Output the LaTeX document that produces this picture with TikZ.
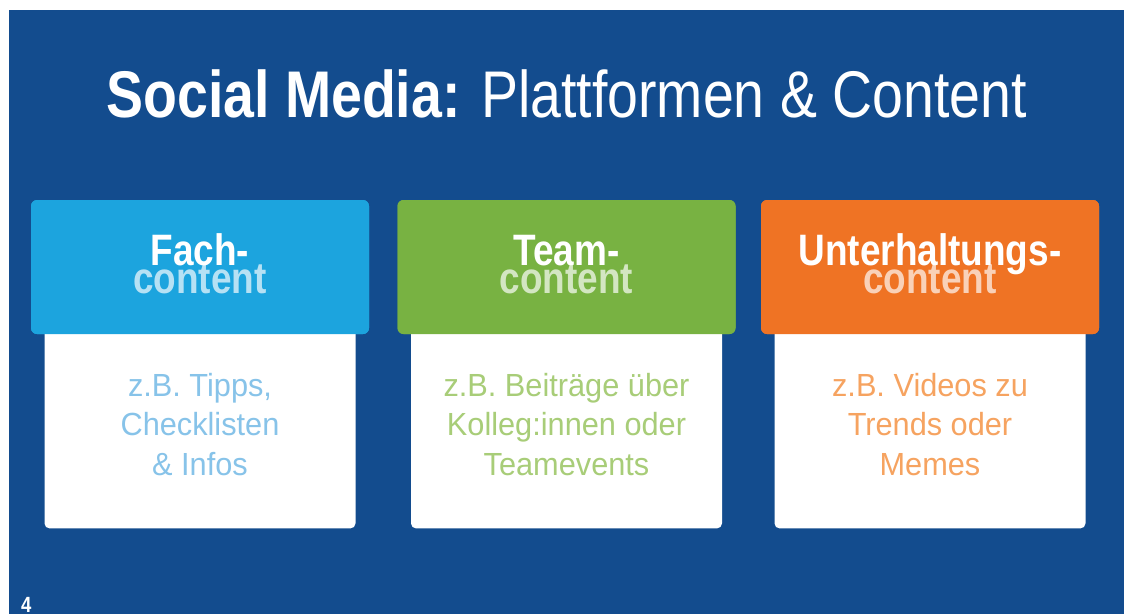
\documentclass[tikz,border=0pt]{standalone}
\usepackage{fontspec}
\usetikzlibrary{positioning}
\newfontfamily\slidehead[FakeStretch=0.84]{Liberation Sans}
\newfontfamily\slidetext[FakeStretch=0.96]{Liberation Sans}
\definecolor{slideblue}{RGB}{19,76,142}
\definecolor{fachblue}{RGB}{28,164,222}
\definecolor{teamgreen}{RGB}{120,178,66}
\definecolor{funorange}{RGB}{239,115,36}
\definecolor{fachlight}{RGB}{135,195,233}
\definecolor{teamlight}{RGB}{168,205,120}
\definecolor{funlight}{RGB}{246,163,96}
\tikzset{
  headbox/.style={rectangle, rounded corners=6pt, minimum width=338pt, minimum height=134pt, inner sep=0pt},
  bodybox/.style={rectangle, fill=white, rounded corners=5pt, minimum width=311pt, minimum height=208pt, inner sep=0pt, align=center, font=\slidetext\fontsize{32}{39.5}\selectfont},
  headword/.style={anchor=base, text=white, inner sep=0pt, font=\slidehead\bfseries\fontsize{44}{44}\selectfont},
  contentword/.style={headword, text opacity=0.68}
}
\begin{document}
\begin{tikzpicture}[x=1pt,y=-1pt]
  \useasboundingbox (0,0) rectangle (1136,614);
  \fill[white] (0,0) rectangle (1136,614); % page
  \fill[slideblue] (9,10) rectangle (1124,614); % slide background

  % title
  \node[anchor=base, text=white, inner sep=0pt, font=\slidehead\fontsize{66}{66}\selectfont] (title) at (566.5,117)
    {{\bfseries Social Media:} Plattformen \& Content};

  % column 1
  \node[headbox, fill=fachblue] (fach) at (200,267) {};
  \node[bodybox, text=fachlight, below=-14pt of fach] (fachtext) {z.B. Tipps,\\Checklisten\\\& Infos};
  \node[headbox, fill=fachblue] at (fach) {}; % header over the white box
  \node[headword] (fachword) at ([yshift=2pt]fach.center) {Fach-};
  \node[contentword] (fachcontent) at ([yshift=-26pt]fach.center) {content};

  % column 2
  \node[headbox, fill=teamgreen] (team) at (566.5,267) {};
  \node[bodybox, text=teamlight, below=-14pt of team] (teamtext) {z.B. Beiträge über\\Kolleg:innen oder\\Teamevents};
  \node[headbox, fill=teamgreen] at (team) {};
  \node[headword] (teamword) at ([yshift=2pt]team.center) {Team-};
  \node[contentword] (teamcontent) at ([yshift=-26pt]team.center) {content};

  % column 3
  \node[headbox, fill=funorange] (fun) at (930,267) {};
  \node[bodybox, text=funlight, below=-14pt of fun] (funtext) {z.B. Videos zu\\Trends oder\\Memes};
  \node[headbox, fill=funorange] at (fun) {};
  \node[headword] (funword) at ([yshift=2pt]fun.center) {Unterhaltungs-};
  \node[contentword] (funcontent) at ([yshift=-26pt]fun.center) {content};

  % page number
  \node[anchor=base west, text=white, inner sep=0pt, font=\slidehead\bfseries\fontsize{22}{22}\selectfont] (pagenum) at (21,612) {4};
\end{tikzpicture}
\end{document}
